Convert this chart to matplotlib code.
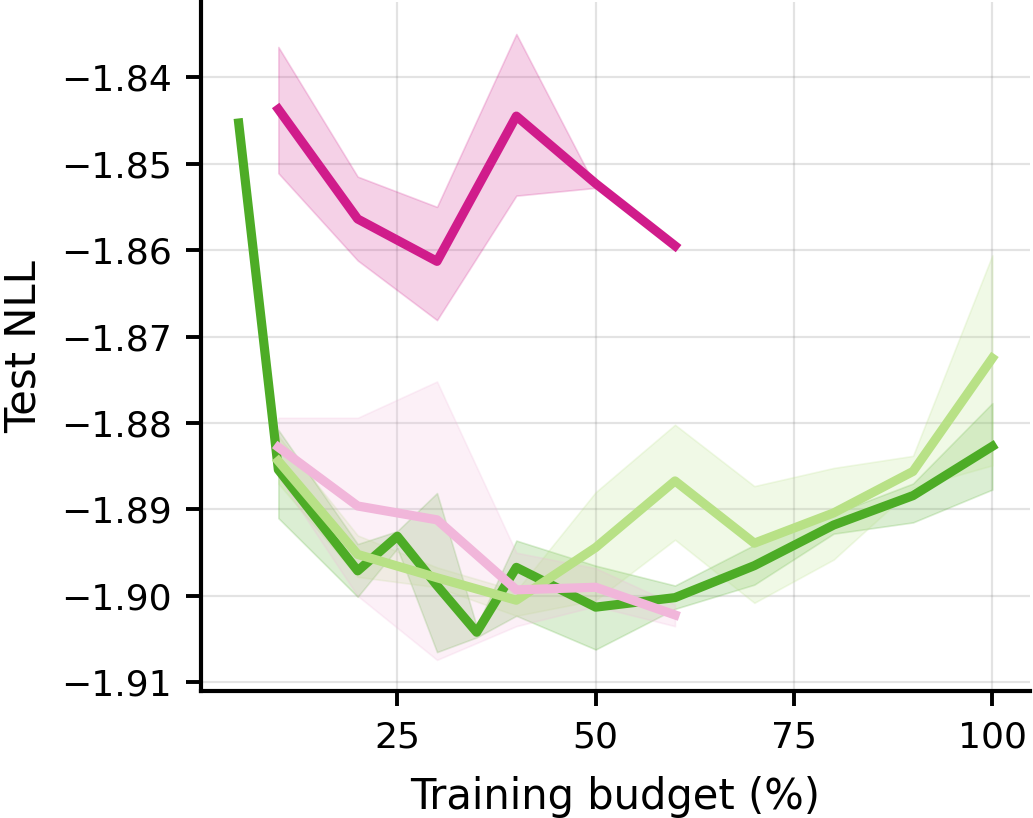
import numpy as np
import matplotlib.pyplot as plt

# PiYG-style colours
c_mag = '#d01c8b'
c_pink = '#f1b6da'
c_lgreen = '#b8e186'
c_dgreen = '#4dac26'

# dark green run
x_dg = [5, 10, 20, 25, 30, 35, 40, 50, 60, 70, 80, 90, 100]
mean_dg = [-1.8453, -1.8854, -1.8971, -1.8931, -1.8988, -1.9042, -1.8967,
           -1.9013, -1.9002, -1.8965, -1.8918, -1.8884, -1.8827]
low_dg = [np.nan, -1.8910, -1.9001, -1.8945, -1.9065, -1.9048, -1.9023,
          -1.9062, -1.9015, -1.8987, -1.8928, -1.8915, -1.8877]
up_dg = [np.nan, -1.8808, -1.8940, -1.8925, -1.8881, -1.9035, -1.8936,
         -1.8965, -1.8988, -1.8941, -1.8905, -1.8870, -1.8777]

# light green run
x_lg = [10, 20, 30, 40, 50, 60, 70, 80, 90, 100]
mean_lg = [-1.8844, -1.8952, -1.8979, -1.9005, -1.8944, -1.8867, -1.8939,
           -1.8904, -1.8856, -1.8725]
low_lg = [-1.8870, -1.8978, -1.8990, -1.9023, -1.9005, -1.8935, -1.9008,
          -1.8958, -1.8875, -1.8849]
up_lg = [-1.8815, -1.8930, -1.8967, -1.8994, -1.8880, -1.8802, -1.8873,
         -1.8852, -1.8838, -1.8606]

# light pink run
x_pk = [10, 20, 30, 40, 50, 60]
mean_pk = [-1.8828, -1.8896, -1.8912, -1.8993, -1.8990, -1.9022]
low_pk = [-1.8862, -1.9000, -1.9074, -1.9035, -1.9012, -1.9035]
up_pk = [-1.8794, -1.8794, -1.8752, -1.8950, -1.8968, -1.9010]

# magenta run
x_mg = [10, 20, 30, 40, 50, 60]
mean_mg = [-1.8437, -1.8564, -1.8613, -1.8445, -1.8523, -1.8595]
low_mg = [-1.8511, -1.8612, -1.8681, -1.8537, -1.8528, np.nan]
up_mg = [-1.8365, -1.8515, -1.8550, -1.8350, -1.8527, np.nan]

xticks = [25, 50, 75, 100]
yticks = [-1.84, -1.85, -1.86, -1.87, -1.88, -1.89, -1.90, -1.91]

fig = plt.figure(figsize=(5.165, 4.09), dpi=200)
ax = fig.add_axes([201 / 1033, 127 / 818, 829 / 1033, 689 / 818])

series = [
    (x_mg, mean_mg, low_mg, up_mg, c_mag),
    (x_dg, mean_dg, low_dg, up_dg, c_dgreen),
    (x_lg, mean_lg, low_lg, up_lg, c_lgreen),
    (x_pk, mean_pk, low_pk, up_pk, c_pink),
]
for xs, m, lo, hi, col in series:
    ax.plot(xs, m, color=col, lw=3.3, zorder=3)
    ax.fill_between(xs, lo, hi, color=col, alpha=0.2, lw=0.6, zorder=2)

ax.set_xlim(0.25, 104.75)
ax.set_ylim(-1.911, -1.8313)
ax.set_xticks(xticks)
ax.set_yticks(yticks)
ax.set_yticklabels(['\u2212%.2f' % abs(v) for v in yticks])
ax.grid(True, color='gray', alpha=0.22, lw=0.8, zorder=0)
ax.set_axisbelow(True)

ax.set_xlabel('Training budget (%)', fontsize=15, labelpad=8)
ax.set_ylabel('Test NLL', fontsize=15, labelpad=6)
ax.tick_params(labelsize=13, length=5.5, width=1.4, pad=5)

# style of axes
ax.spines['top'].set_visible(False)
ax.spines['right'].set_visible(False)
ax.spines['left'].set_linewidth(1.5)
ax.spines['bottom'].set_linewidth(1.5)

fig.savefig('out.png', dpi=200)
